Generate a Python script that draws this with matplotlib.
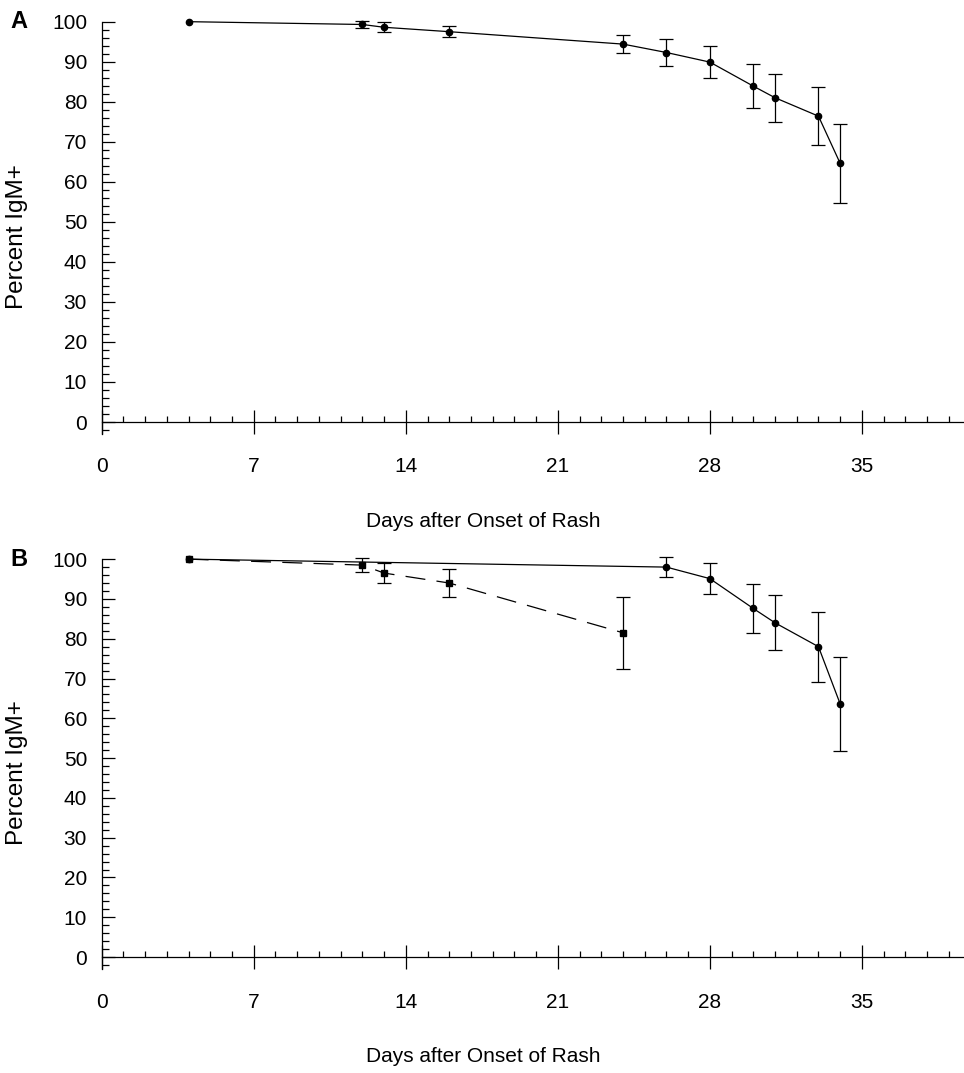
import numpy as np
import matplotlib
matplotlib.use("Agg")
import matplotlib.pyplot as plt
from matplotlib.ticker import MultipleLocator, FixedLocator

plt.rcParams["font.family"] = ["Liberation Sans", "DejaVu Sans"]

# panel A: single cohort
days_a = [4, 12, 13, 16, 24, 26, 28, 30, 31, 33, 34]
pct_a = [100, 99.3, 98.6, 97.5, 94.4, 92.3, 89.9, 83.9, 81.0, 76.4, 64.6]
err_a = [0, 0.8, 1.2, 1.4, 2.3, 3.4, 4.0, 5.5, 6.0, 7.3, 9.8]

# panel B: dashed and solid cohorts
days_b_dash = [4, 12, 13, 16, 24]
pct_b_dash = [100, 98.5, 96.5, 94.0, 81.5]
err_b_dash = [0, 1.7, 2.6, 3.6, 9.0]

days_b_solid = [4, 26, 28, 30, 31, 33, 34]
pct_b_solid = [100, 98.0, 95.1, 87.6, 84.0, 78.0, 63.6]
err_b_solid = [0, 2.5, 3.9, 6.2, 6.9, 8.8, 11.7]

x_major = [0, 7, 14, 21, 28, 35]
x_label = "Days after Onset of Rash"
y_label = "Percent IgM+"

FS = 15


def series(ax, x, y, err, marker="o", dashed=False):
    x, y, err = map(np.asarray, (x, y, err))
    line, = ax.plot(x, y, color="black", lw=0.9, marker=marker, ms=4.5,
                    clip_on=False)
    if dashed:
        line.set_dashes((16, 9))
    m = err > 0
    ax.errorbar(x[m], y[m], yerr=err[m], fmt="none", ecolor="black",
                elinewidth=0.9, capsize=4.7, capthick=0.9, clip_on=False)


def style(ax):
    ax.set_xlim(0, 39.7)
    ax.set_ylim(-3, 100)
    for s in ("top", "right"):
        ax.spines[s].set_visible(False)
    ax.spines["bottom"].set_position(("data", 0))
    ax.spines["left"].set_bounds(-3, 100)
    for s in ("left", "bottom"):
        ax.spines[s].set_linewidth(0.9)
    ax.xaxis.set_major_locator(FixedLocator(x_major))
    ax.xaxis.set_minor_locator(FixedLocator([d for d in range(1, 40) if d % 7]))
    ax.yaxis.set_major_locator(MultipleLocator(10))
    ax.yaxis.set_minor_locator(MultipleLocator(2))
    ax.tick_params(axis="x", which="major", direction="inout", length=17,
                   width=0.9, pad=17, labelsize=FS)
    ax.tick_params(axis="x", which="minor", direction="in", length=4.5, width=0.9)
    ax.tick_params(axis="y", which="major", direction="in", length=9,
                   width=0.9, pad=10.5, labelsize=FS)
    ax.tick_params(axis="y", which="minor", direction="in", length=5, width=0.9)
    ax.set_xlabel(x_label, fontsize=FS)
    ax.xaxis.set_label_coords(0.442, -0.19)
    ax.set_ylabel(y_label, fontsize=17.5)
    ax.yaxis.set_label_coords(-0.0855, 0.48)


fig = plt.figure(figsize=(9.64, 10.73), dpi=100)
ax_a = fig.add_axes([0.1055, 0.5955, 0.8945, 0.3843])
ax_b = fig.add_axes([0.1055, 0.0969, 0.8945, 0.382])

series(ax_a, days_a, pct_a, err_a)
series(ax_b, days_b_dash, pct_b_dash, err_b_dash, marker="s", dashed=True)
series(ax_b, days_b_solid, pct_b_solid, err_b_solid)

for ax in (ax_a, ax_b):
    style(ax)

fig.text(0.011, 1 - 21 / 1073, "A", fontsize=17, fontweight="bold", va="center")
fig.text(0.011, 1 - 559 / 1073, "B", fontsize=17, fontweight="bold", va="center")

fig.savefig("out.png", dpi=100)
